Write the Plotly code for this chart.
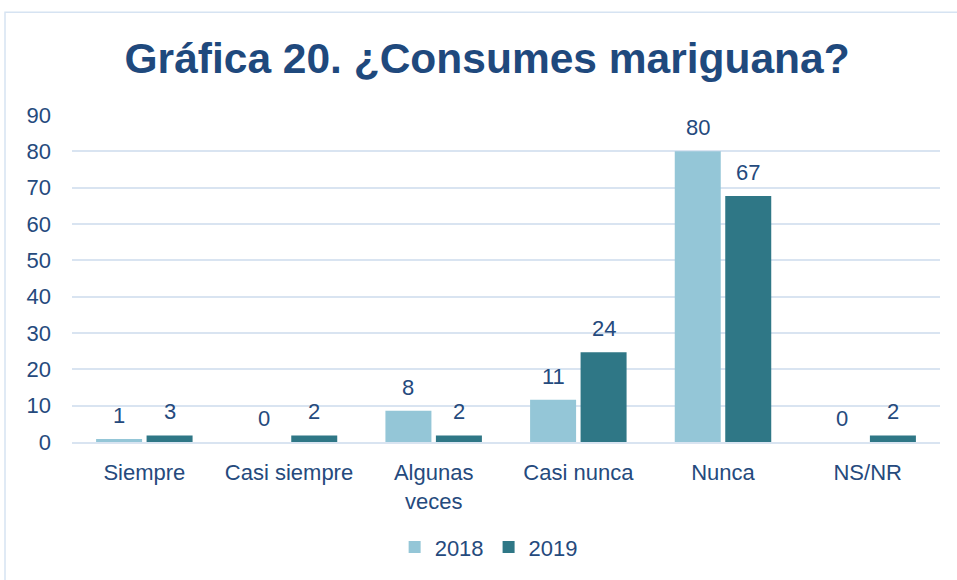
import plotly.graph_objects as go

categories = ["Siempre", "Casi siempre", "Algunas<br>veces", "Casi nunca", "Nunca", "NS/NR"]
series_names = ["2018", "2019"]
values_2018 = [0.8, 0, 8.6, 11.6, 80.0, 0]
values_2019 = [1.8, 1.8, 1.8, 24.7, 67.7, 1.8]
labels_2018 = ["1", "0", "8", "11", "80", "0"]
labels_2019 = ["3", "2", "2", "24", "67", "2"]
y_ticks = [0, 10, 20, 30, 40, 50, 60, 70, 80, 90]

text_color = "#254a7d"
colors = ["#94c6d7", "#2f7786"]
font_family = "Liberation Sans, Arial, sans-serif"

fig = go.Figure()
for name, vals, col in zip(series_names, [values_2018, values_2019], colors):
    fig.add_trace(go.Bar(
        x=categories, y=vals, name=name,
        marker=dict(color=col, line=dict(width=0)),
        hoverinfo="skip",
    ))

annotations = []
for vals, labs, shift in [(values_2018, labels_2018, -25.3), (values_2019, labels_2019, 25.3)]:
    for c, v, t in zip(categories, vals, labs):
        annotations.append(dict(
            x=c, y=v, text=t, xref="x", yref="y", showarrow=False,
            xshift=shift, yshift=9, yanchor="bottom",
            font=dict(size=22, color=text_color, family=font_family),
        ))

fig.update_layout(
    width=957, height=580,
    margin=dict(l=72, r=17, t=115, b=136),
    paper_bgcolor="white", plot_bgcolor="white",
    title=dict(
        text="<b>Gráfica 20. ¿Consumes mariguana?</b>",
        x=0.509, xanchor="center", y=0.9, yanchor="middle",
        font=dict(size=42.5, color="#1f497d", family=font_family),
    ),
    barmode="group", bargap=0.302, bargroupgap=0.089,
    showlegend=True,
    legend=dict(
        orientation="h", x=0.48, xanchor="center", y=-0.322, yanchor="middle",
        font=dict(size=22, color=text_color, family=font_family),
        itemwidth=30, traceorder="normal",
    ),
    annotations=annotations,
    shapes=[dict(
        type="rect", xref="paper", yref="paper",
        x0=(5 - 72) / 868, x1=(965 - 72) / 868,
        y0=(444 - 590) / 329, y1=(444 - 11.5) / 329,
        line=dict(color="#d6e3f2", width=1.5), fillcolor="rgba(0,0,0,0)", layer="below",
    )],
)
fig.update_xaxes(
    tickfont=dict(size=22, color=text_color, family=font_family),
    showline=True, linecolor="#d9e4f1", linewidth=2, ticks="", showgrid=False,
    ticklabelstandoff=10,
)
fig.update_yaxes(
    range=[0, 90], tickvals=y_ticks,
    tickfont=dict(size=22, color=text_color, family=font_family),
    showgrid=True, gridcolor="#d9e4f1", gridwidth=2, zeroline=False,
    showline=False, ticks="", ticklabelstandoff=20,
)

fig.write_html("out.html", config={"displayModeBar": False},
               post_script="document.body.style.margin='0';")
